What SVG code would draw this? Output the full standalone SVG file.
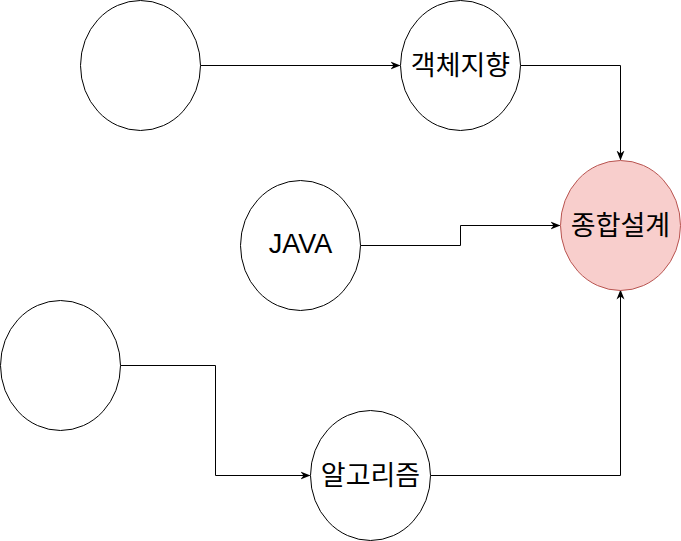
<svg xmlns="http://www.w3.org/2000/svg" width="681" height="541" viewBox="0 0 681 541">
<defs>
<style>
.n{fill:#ffffff;stroke:#000000;stroke-width:1}
.hl{fill:#f8cecc;stroke:#b85450;stroke-width:1}
.e{fill:none;stroke:#000000;stroke-width:1}
.k{font-family:"Noto Sans CJK KR","Noto Sans",sans-serif;font-size:27px;fill:#000;text-anchor:middle}
.l{font-family:"Liberation Sans",Arial,sans-serif;font-size:27px;fill:#000;text-anchor:middle}
</style>
<marker id="a" viewBox="0 0 10 10" refX="9" refY="5" markerWidth="10" markerHeight="10" markerUnits="userSpaceOnUse" orient="auto">
<path d="M0,1 L10,5 L0,9 L3,5 Z" fill="#000"/>
</marker>
</defs>
<rect width="681" height="541" fill="#ffffff"/>
<g id="edges">
<path class="e" d="M200.5,65.5 H399.5" marker-end="url(#a)"/>
<path class="e" d="M520.5,65.5 H620.5 V159.5" marker-end="url(#a)"/>
<path class="e" d="M360.5,245.5 H460.5 V225.5 H559.5" marker-end="url(#a)"/>
<path class="e" d="M120.5,365.5 H215.5 V475.5 H309.5" marker-end="url(#a)"/>
<path class="e" d="M430.5,475.5 H620.5 V290.5" marker-end="url(#a)"/>
</g>
<g id="n1"><ellipse class="n" cx="140.5" cy="65.5" rx="60" ry="65"/></g>
<g id="n2"><ellipse class="n" cx="460.5" cy="65.5" rx="60" ry="65"/><text class="k" x="460.5" y="75">객체지향</text></g>
<g id="n3"><ellipse class="n" cx="300.5" cy="245.5" rx="60" ry="65"/><text class="l" x="300.5" y="253">JAVA</text></g>
<g id="n4"><ellipse class="hl" cx="620.5" cy="225.5" rx="60" ry="65"/><text class="k" x="620.5" y="235">종합설계</text></g>
<g id="n5"><ellipse class="n" cx="60.5" cy="365.5" rx="60" ry="65"/></g>
<g id="n6"><ellipse class="n" cx="370.5" cy="475.5" rx="60" ry="65"/><text class="k" x="370.5" y="485">알고리즘</text></g>
</svg>
